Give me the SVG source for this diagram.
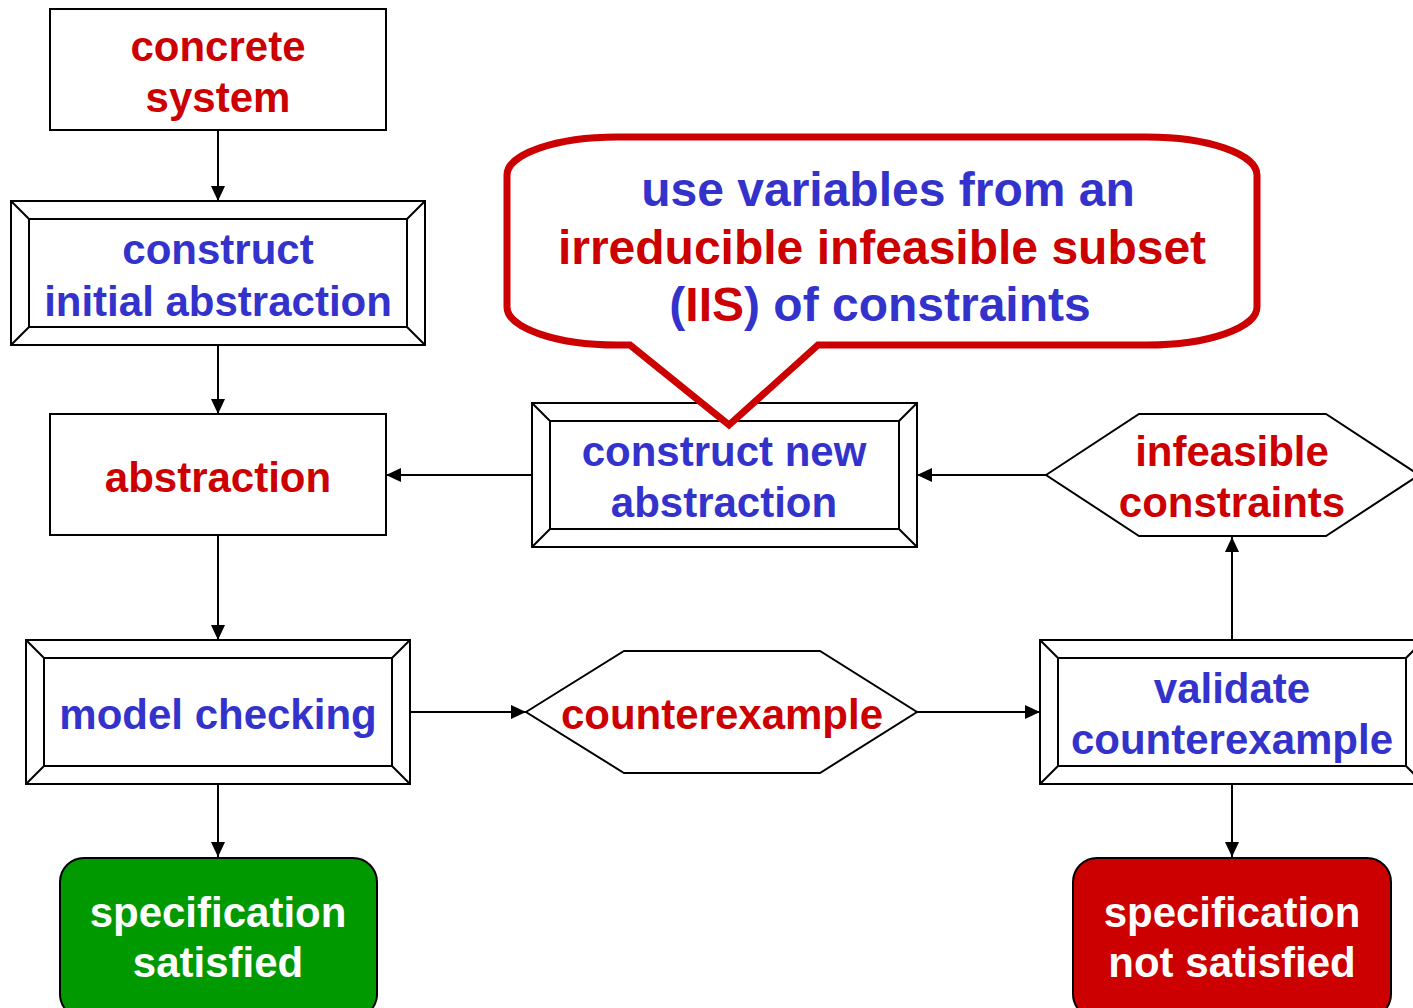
<svg xmlns="http://www.w3.org/2000/svg" width="1413" height="1008" viewBox="0 0 1413 1008">
  <style>
    .box { fill: #ffffff; stroke: #000000; stroke-width: 2; }
    .bevel { fill: none; stroke: #000000; stroke-width: 2; }
    .edge { fill: none; stroke: #000000; stroke-width: 2; }
    text { font-family: "Liberation Sans", Arial, sans-serif; font-weight: bold; font-size: 42px; text-anchor: middle; }
    .blue { fill: #3333cc; }
    .red { fill: #cc0000; }
    .white { fill: #ffffff; }
    .callout { fill: #ffffff; stroke: #cc0000; stroke-width: 7; stroke-linejoin: miter; }
    .big { font-size: 48px; }
  </style>
  <defs>
    <marker id="arrow" viewBox="0 0 15 14" refX="15" refY="7" markerWidth="15" markerHeight="14" markerUnits="userSpaceOnUse" orient="auto">
      <path d="M0,0 L15,7 L0,14 Z" fill="#000000"/>
    </marker>
  </defs>

  <rect width="1413" height="1008" fill="#ffffff"/>

  <!-- connectors -->
  <g id="connectors">
    <line class="edge" x1="218" y1="131" x2="218" y2="201" marker-end="url(#arrow)"/>
    <line class="edge" x1="218" y1="345" x2="218" y2="414" marker-end="url(#arrow)"/>
    <line class="edge" x1="218" y1="535" x2="218" y2="640" marker-end="url(#arrow)"/>
    <line class="edge" x1="218" y1="784" x2="218" y2="857" marker-end="url(#arrow)"/>
    <line class="edge" x1="410" y1="712" x2="526" y2="712" marker-end="url(#arrow)"/>
    <line class="edge" x1="917" y1="712" x2="1040" y2="712" marker-end="url(#arrow)"/>
    <line class="edge" x1="1232" y1="640" x2="1232" y2="537" marker-end="url(#arrow)"/>
    <line class="edge" x1="1046" y1="475" x2="917" y2="475" marker-end="url(#arrow)"/>
    <line class="edge" x1="532" y1="475" x2="386" y2="475" marker-end="url(#arrow)"/>
    <line class="edge" x1="1232" y1="784" x2="1232" y2="857" marker-end="url(#arrow)"/>
  </g>

  <!-- concrete system -->
  <g id="concrete-system">
    <rect class="box" x="50" y="9" width="336" height="121"/>
    <text class="red" x="218" y="61">concrete</text>
    <text class="red" x="218" y="112">system</text>
  </g>

  <!-- construct initial abstraction -->
  <g id="construct-initial">
    <rect class="box" x="11" y="201" width="414" height="144"/>
    <rect class="bevel" x="29" y="219" width="378" height="108"/>
    <path class="bevel" d="M11,201 L29,219 M425,201 L407,219 M11,345 L29,327 M425,345 L407,327"/>
    <text class="blue" x="218" y="264">construct</text>
    <text class="blue" x="218" y="316">initial abstraction</text>
  </g>

  <!-- abstraction -->
  <g id="abstraction">
    <rect class="box" x="50" y="414" width="336" height="121"/>
    <text class="red" x="218" y="492">abstraction</text>
  </g>

  <!-- model checking -->
  <g id="model-checking">
    <rect class="box" x="26" y="640" width="384" height="144"/>
    <rect class="bevel" x="44" y="658" width="348" height="108"/>
    <path class="bevel" d="M26,640 L44,658 M410,640 L392,658 M26,784 L44,766 M410,784 L392,766"/>
    <text class="blue" x="218" y="729">model checking</text>
  </g>

  <!-- specification satisfied -->
  <g id="spec-satisfied">
    <rect x="60" y="858" width="317" height="160" rx="24" ry="24" fill="#009900" stroke="#000000" stroke-width="2"/>
    <text class="white" x="218" y="927">specification</text>
    <text class="white" x="218" y="977">satisfied</text>
  </g>

  <!-- counterexample -->
  <g id="counterexample">
    <polygon class="box" points="526,712 624,651 820,651 917,712 820,773 624,773"/>
    <text class="red" x="722" y="729">counterexample</text>
  </g>

  <!-- validate counterexample -->
  <g id="validate">
    <rect class="box" x="1040" y="640" width="384" height="144"/>
    <rect class="bevel" x="1058" y="658" width="348" height="108"/>
    <path class="bevel" d="M1040,640 L1058,658 M1424,640 L1406,658 M1040,784 L1058,766 M1424,784 L1406,766"/>
    <text class="blue" x="1232" y="703">validate</text>
    <text class="blue" x="1232" y="754">counterexample</text>
  </g>

  <!-- infeasible constraints -->
  <g id="infeasible">
    <polygon class="box" points="1046,475 1139,414 1326,414 1419,475 1326,536 1139,536"/>
    <text class="red" x="1232" y="466">infeasible</text>
    <text class="red" x="1232" y="517">constraints</text>
  </g>

  <!-- construct new abstraction -->
  <g id="construct-new">
    <rect class="box" x="532" y="403" width="385" height="144"/>
    <rect class="bevel" x="550" y="421" width="349" height="108"/>
    <path class="bevel" d="M532,403 L550,421 M917,403 L899,421 M532,547 L550,529 M917,547 L899,529"/>
    <text class="blue" x="724" y="466">construct new</text>
    <text class="blue" x="724" y="517">abstraction</text>
  </g>

  <!-- specification not satisfied -->
  <g id="spec-not-satisfied">
    <rect x="1073" y="858" width="318" height="160" rx="24" ry="24" fill="#cc0000" stroke="#000000" stroke-width="2"/>
    <text class="white" x="1232" y="927">specification</text>
    <text class="white" x="1232" y="977">not satisfied</text>
  </g>

  <!-- IIS callout -->
  <g id="iis-callout">
    <path class="callout" d="M617,137 H1147 A110 38 0 0 1 1257,175 V307 A110 38 0 0 1 1147,345 H818 L729,425 L630,345 H617 A110 38 0 0 1 507,307 V175 A110 38 0 0 1 617,137 Z"/>
    <text class="blue big" x="888" y="206">use variables from an</text>
    <text class="red big" x="882" y="264">irreducible infeasible subset</text>
    <text class="big" x="880" y="321"><tspan class="blue">(</tspan><tspan class="red">IIS</tspan><tspan class="blue">) of constraints</tspan></text>
  </g>
</svg>
